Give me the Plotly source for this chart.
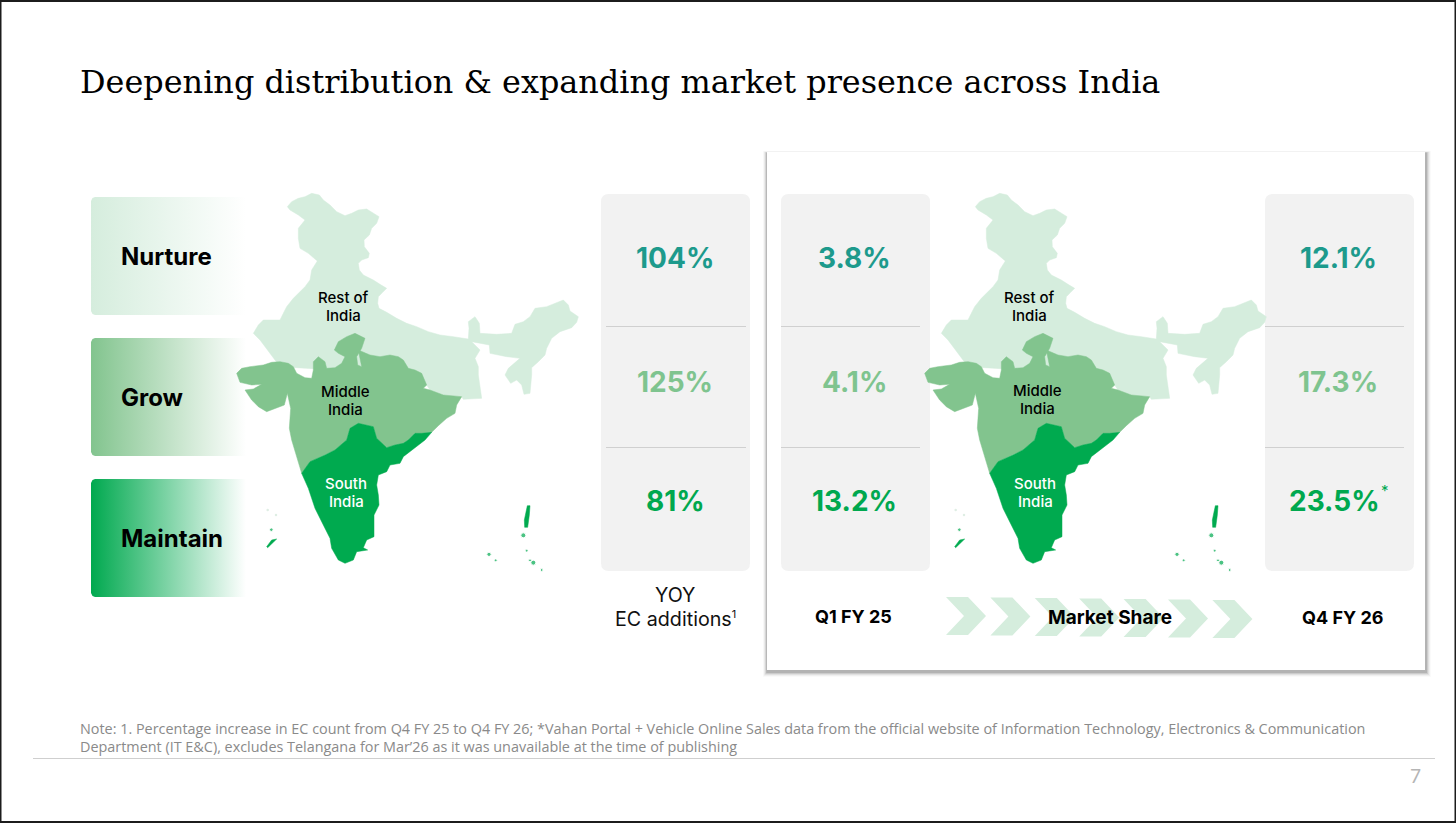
import plotly.graph_objects as go

TITLE = "Deepening distribution &amp; expanding market presence across India"
SEGMENTS = ["Nurture", "Grow", "Maintain"]
REGIONS = [["Rest of", "India"], ["Middle", "India"], ["South", "India"]]
YOY_EC_ADDITIONS = ["104%", "125%", "81%"]
SHARE_Q1_FY25 = ["3.8%", "4.1%", "13.2%"]
SHARE_Q4_FY26 = ["12.1%", "17.3%", "23.5%"]
NOTE = ["Note: 1. Percentage increase in EC count from Q4 FY 25 to Q4 FY 26; *Vahan Portal + Vehicle Online Sales data from the official website of Information Technology, Electronics &amp; Communication",
        "Department (IT E&amp;C), excludes Telangana for Mar’26 as it was unavailable at the time of publishing"]

# Map outlines, traced in map units (3 units = 1 px)
REST = [(172,65),(185,50),(205,40),(225,35),(245,25),(268,30),(280,45),(300,60),(320,80),(345,92),(365,85),(385,75),(410,72),(430,85),(447,95),(440,115),(425,130),(418,150),(402,165),(403,185),(418,205),(415,218),(395,225),(385,235),(388,255),(400,270),(430,285),(450,298),(470,310),(458,322),(445,335),(443,355),(447,370),(470,382),(500,400),(530,415),(560,425),(595,440),(630,450),(670,455),(715,462),(717,430),(715,410),(735,395),(748,415),(750,445),(800,448),(845,445),(855,418),(880,410),(900,395),(915,370),(950,365),(1000,345),(1015,360),(1020,378),(1045,395),(1040,412),(1025,428),(990,440),(965,460),(950,490),(945,510),(925,530),(905,548),(905,570),(900,625),(882,628),(875,600),(860,585),(842,595),(825,570),(835,550),(870,520),(830,515),(780,505),(778,480),(725,470),(750,495),(735,520),(745,545),(745,570),(750,605),(755,640),(700,643),(695,635),(640,630),(600,615),(590,600),(400,560),(150,545),(115,500),(90,465),(70,445),(85,420),(100,405),(150,405),(160,385),(170,365),(190,340),(205,325),(225,305),(240,285),(245,255),(262,228),(235,205),(210,190),(205,160),(205,130),(225,105),(205,90),(180,75)]
MIDDLE = [(20,565),(35,550),(60,545),(100,540),(125,532),(150,530),(175,535),(190,545),(200,565),(225,578),(245,580),(250,555),(250,530),(265,515),(285,530),(290,550),(315,548),(335,535),(345,515),(325,505),(313,495),(325,470),(350,455),(375,445),(405,460),(395,490),(380,515),(383,540),(395,545),(385,495),(420,510),(450,515),(480,510),(505,515),(520,525),(535,550),(555,555),(575,565),(590,600),(580,610),(600,615),(640,630),(695,635),(680,660),(675,685),(650,700),(625,722),(605,742),(575,745),(555,745),(535,765),(520,775),(495,780),(470,788),(455,775),(440,760),(430,725),(405,720),(385,715),(360,730),(350,765),(315,795),(285,810),(240,830),(215,865),(205,830),(195,800),(185,765),(178,730),(182,670),(172,625),(163,660),(110,680),(85,665),(65,645),(45,615),(70,612),(95,598),(65,600),(30,592)]
SOUTH = [(215,865),(240,830),(285,810),(315,795),(350,765),(360,730),(385,715),(405,720),(430,725),(440,760),(455,775),(470,788),(495,780),(520,775),(535,765),(555,745),(575,745),(605,742),(585,765),(560,785),(520,815),(510,835),(480,840),(470,860),(445,870),(440,900),(445,930),(447,960),(432,990),(432,1055),(410,1065),(400,1088),(413,1095),(380,1100),(370,1125),(345,1135),(325,1125),(305,1090),(300,1060),(280,1020),(255,970),(235,910)]
ANDAMAN_N = [(892,962),(900,962),(898,990),(893,1027),(884,1027),(883,1005)]
LAKSHA_S = [(110,1085),(125,1065),(140,1062),(125,1078),(113,1088)]
ISLET_X = [124, 880, 890, 777, 797, 900, 910, 935]
ISLET_Y = [1034, 1051, 1097, 1108, 1126, 1126, 1133, 1155]
ISLET_SIZE = [5, 7, 4, 6, 4, 4, 7, 4]
FAINT_X = [113, 138]
FAINT_Y = [975, 990]

W, H = 1456, 823
C_PALE, C_MID, C_DEEP = "#d5eddd", "#82c48e", "#00aa4f"
C_TEAL = "#1d9a8c"
VAL_COLORS = [C_TEAL, "#7fc48f", "#00a84f"]
SANS = "Inter"

fig = go.Figure()
shapes, ann = [], []

def rrect(x0, y0, x1, y1, r):
    return (f"M{x0+r},{y0} L{x1-r},{y0} Q{x1},{y0} {x1},{y0+r} L{x1},{y1-r} Q{x1},{y1} {x1-r},{y1} "
            f"L{x0+r},{y1} Q{x0},{y1} {x0},{y1-r} L{x0},{y0+r} Q{x0},{y0} {x0+r},{y0} Z")

def text(x, y, s, size, color="#000", family=SANS, weight=None, anchor="center"):
    ann.append(dict(x=x, y=y, xref="x", yref="y", text=s, showarrow=False, xanchor=anchor, yanchor="middle",
                    font=dict(size=size, color=color, family=family, weight=weight), align=anchor,
                    borderpad=0, borderwidth=0))

def px(points, dx=0):
    return [230 + p[0]/3 + dx for p in points], [185 + p[1]/3 for p in points]

# shadow + white card
for grow, op in [(5, .02), (4, .04), (3, .06), (2, .09), (1, .12)]:
    shapes.append(dict(type="rect", x0=767-grow*0.8, x1=1425+grow+1, y0=152-grow*0.4+1, y1=670+grow+2, xref="x", yref="y",
                       fillcolor=f"rgba(0,0,0,{op})", line_width=0, layer="below"))
shapes.append(dict(type="rect", x0=767, x1=1425, y0=152, y1=670, xref="x", yref="y", fillcolor="#fff",
                   line_width=0, layer="below"))

# grey value panels
for x0, dx0, dx1 in [(601, 5, 145), (781, 0, 139), (1265, 0, 139)]:
    shapes.append(dict(type="path", path=rrect(x0, 194, x0+149, 571, 8), fillcolor="#f2f2f2", line_width=0, layer="below"))
    for yy in (326.5, 447.5):
        shapes.append(dict(type="line", x0=x0+dx0, x1=x0+dx1, y0=yy, y1=yy, line=dict(color="#d0d0d0", width=1), layer="below"))

# gradient segment panels
for top, col, seg in zip((197, 338, 479), (C_PALE, C_MID, "#00a94f"), SEGMENTS):
    xs = [95, 246, 246, 95, 92.5, 91, 91, 92.5]
    ys = [top, top, top+118, top+118, top+117, top+114, top+4, top+1]
    fig.add_trace(go.Scatter(x=xs, y=ys, mode="none", fill="toself", hoverinfo="skip",
                             fillgradient=dict(type="horizontal", start=91, stop=246,
                                               colorscale=[[0, col], [1, "#ffffff"]])))
    text(121, top+59.5, seg, 24, "#000", weight=700, anchor="left")

# maps
for dx in (0, 688):
    for outline, col in [(REST, C_PALE), (MIDDLE, C_MID), (SOUTH, C_DEEP), (ANDAMAN_N, C_DEEP), (LAKSHA_S, C_DEEP)]:
        xs, ys = px(outline, dx)
        fig.add_trace(go.Scatter(x=xs+xs[:1], y=ys+ys[:1], mode="lines", line=dict(width=0.5, color=col), fill="toself",
                                 fillcolor=col, hoverinfo="skip"))
    xs, ys = px(list(zip(ISLET_X, ISLET_Y)), dx)
    fig.add_trace(go.Scatter(x=xs, y=ys, mode="markers", marker=dict(size=[s/1.4 for s in ISLET_SIZE], color=C_DEEP), hoverinfo="skip"))
    xs, ys = px(list(zip(FAINT_X, FAINT_Y)), dx)
    fig.add_trace(go.Scatter(x=xs, y=ys, mode="markers", marker=dict(size=2.5, color="#dfeee4"), hoverinfo="skip"))
    lab_x = (343, 345, 346) if dx == 0 else (1029, 1037, 1035)
    lab_y = (297, 391, 483) if dx == 0 else (297, 390, 483)
    for (a, b), lx, ly, col in zip(REGIONS, lab_x, lab_y, ("#000", "#000", "#fff")):
        text(lx, ly, a, 15, col, weight=500)
        text(lx, ly+18.5, b, 15, col, weight=500)

# values
for cx, vals in [(675, YOY_EC_ADDITIONS), (854, SHARE_Q1_FY25), (1338, SHARE_Q4_FY26)]:
    for yy, v, col, i in zip((258, 382, 501), vals, VAL_COLORS, range(3)):
        cx2 = 1334 if (cx == 1338 and i == 2) else cx
        text(cx2, yy, v, 28, col, weight=700)
ann.append(dict(x=1385, y=490, xref="x", yref="y", text="*", showarrow=False, font=dict(size=15, color="#00a84f", family=SANS)))

# chevrons
for i in range(7):
    x0 = 946 + i*44.4
    y0 = 597 + i*0.5
    shapes.append(dict(type="path", path=f"M{x0},{y0} L{x0+22},{y0} L{x0+40},{y0+19} L{x0+22},{y0+38} L{x0},{y0+38} L{x0+18},{y0+19} Z",
                       fillcolor=C_PALE, line_width=0, layer="below"))

text(675, 595, "YOY", 19.7, "#111")
text(675, 619, "EC additions<sup><span style='font-size:11px'>1</span></sup>", 19.7, "#111")
text(853, 616, "Q1 FY 25", 18, "#000", weight=700)
text(1110, 617, "Market Share", 19, "#000", weight=700)
text(1342, 617, "Q4 FY 26", 18, "#000", weight=700)

text(80, 82, TITLE, 31.9, "#000", family="DejaVu Serif", anchor="left")
for yy, line in zip((728, 746), NOTE):
    text(80, yy, line, 14.4, "#8a8a8a", family="Open Sans", anchor="left")
shapes.append(dict(type="line", x0=33, x1=1435, y0=758.5, y1=758.5, line=dict(color="#cfcfcf", width=1), layer="below"))
text(1415, 775, "7", 19, "#b5b5b5", family="Lato")

# screenshot frame
shapes.append(dict(type="rect", x0=0.5, x1=W-0.5, y0=1, y1=H-1, line=dict(color="#1c1c1c", width=2), layer="above"))

fig.update_layout(width=W, height=H, margin=dict(l=0, r=0, t=0, b=0), showlegend=False,
                  paper_bgcolor="#fff", plot_bgcolor="#fff", shapes=shapes, annotations=ann,
                  xaxis=dict(range=[0, W], visible=False, fixedrange=True),
                  yaxis=dict(range=[H, 0], visible=False, fixedrange=True))
fig.write_html("out.html", config={"displayModeBar": False},
               post_script="document.body.style.margin='0';document.documentElement.style.overflow='hidden';")
